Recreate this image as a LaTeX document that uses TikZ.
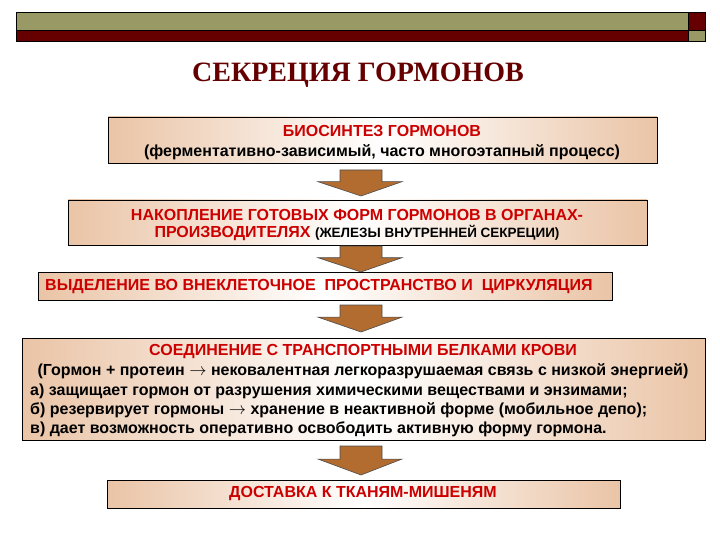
\documentclass[tikz,border=0pt]{standalone}
\usepackage{fontspec}
\setmainfont{Liberation Sans}
\newfontfamily\titlefont{Liberation Serif}
\definecolor{olive}{RGB}{153,153,102}
\definecolor{dred}{RGB}{102,0,0}
\definecolor{tred}{RGB}{204,0,0}
\definecolor{tan}{RGB}{234,196,166}
\definecolor{brn}{RGB}{178,108,48}
\tikzset{
  box/.style={draw=black, line width=0.8pt, left color=tan, right color=tan, middle color=white},
  txt/.style={font=\bfseries\fontsize{16}{19}\selectfont, inner sep=0pt},
  dn/.style={fill=brn, draw=black!70, line width=0.6pt}
}
\newcommand{\downarr}[3]{% name, top y, bottom y
  \draw[dn] (340,#2) -- (382,#2) -- (382,{#2+0.45*(#3-#2)}) -- (402,{#2+0.45*(#3-#2)}) -- (361,#3) -- (318,{#2+0.45*(#3-#2)}) -- (340,{#2+0.45*(#3-#2)}) -- cycle;
  \coordinate (#1) at (361,#3);}
\begin{document}
\begin{tikzpicture}[x=1pt,y=-1pt]
\useasboundingbox (0,0) rectangle (720,540);
% header bar
\fill[olive] (16,12) rectangle (688,30);
\fill[dred] (16,30) rectangle (688,41);
\fill[dred] (688,12) rectangle (705,30);
\fill[olive] (688,30) rectangle (705,41);
\draw[line width=0.6pt] (16,12) rectangle (705,41) (688,12) -- (688,41) (16,30) -- (705,30);
% title
\node[inner sep=0pt, text=dred, font=\titlefont\bfseries\fontsize{28}{32}\selectfont] (title) at (358,75) {СЕКРЕЦИЯ ГОРМОНОВ};
% box1
\draw[box] (108,117) rectangle (657,163);
\node[txt, text=tred] (b1a) at (382,131) {БИОСИНТЕЗ ГОРМОНОВ};
\node[txt] (b1b) at (382,152) {(ферментативно-зависимый, часто многоэтапный процесс)};
\downarr{a1}{170}{196}
% box2
\draw[box] (68,200) rectangle (647,245);
\node[txt, text=tred] (b2a) at (357,215) {НАКОПЛЕНИЕ ГОТОВЫХ ФОРМ ГОРМОНОВ В ОРГАНАХ-};
\node[txt] (b2b) at (357,233) {\textcolor{tred}{ПРОИЗВОДИТЕЛЯХ} {\fontsize{13.5}{16}\selectfont (ЖЕЛЕЗЫ ВНУТРЕННЕЙ СЕКРЕЦИИ)}};
\downarr{a2}{246}{272}
% box3
\draw[box] (38,272) rectangle (612,300);
\node[txt, text=tred, anchor=west] (b3) at (45,287) {ВЫДЕЛЕНИЕ ВО ВНЕКЛЕТОЧНОЕ \ ПРОСТРАНСТВО И \ ЦИРКУЛЯЦИЯ};
\downarr{a3}{305}{332}
% box4
\draw[box] (22,338) rectangle (705,440);
\node[txt, text=tred] (b4a) at (363,352) {СОЕДИНЕНИЕ С ТРАНСПОРТНЫМИ БЕЛКАМИ КРОВИ};
\node[txt] (b4b) at (363,371) {(Гормон + протеин $\rightarrow$ нековалентная легкоразрушаемая связь с низкой энергией)};
\node[txt, anchor=west] (b4c) at (30,391) {а) защищает гормон от разрушения химическими веществами и энзимами;};
\node[txt, anchor=west] (b4d) at (30,410) {б) резервирует гормоны $\rightarrow$ хранение в неактивной форме (мобильное депо);};
\node[txt, anchor=west] (b4e) at (30,429) {в) дает возможность оперативно освободить активную форму гормона.};
\downarr{a4}{446}{475}
% box5
\draw[box] (107,480) rectangle (620,508);
\node[txt, text=tred] (b5) at (363,494) {ДОСТАВКА К ТКАНЯМ-МИШЕНЯМ};
\end{tikzpicture}
\end{document}
